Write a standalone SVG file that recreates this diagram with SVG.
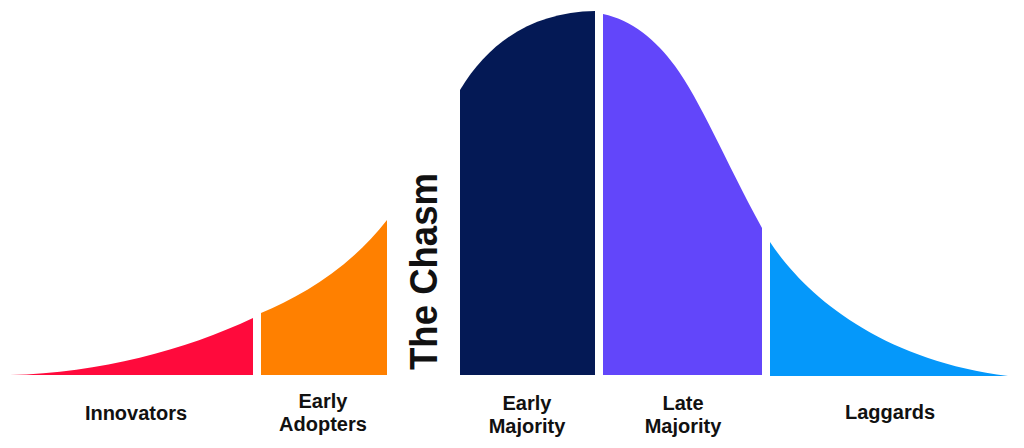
<svg xmlns="http://www.w3.org/2000/svg" width="1024" height="448" viewBox="0 0 1024 448">
<style>
.lbl{font-family:"Liberation Sans",Arial,sans-serif;font-weight:bold;font-size:20px;fill:#111;text-anchor:middle}
.chasm{font-family:"Liberation Sans",Arial,sans-serif;font-weight:bold;font-size:38px;fill:#111;text-anchor:middle}
</style>
<rect width="1024" height="448" fill="#ffffff"/>
<g id="innovators">
<path d="M10,375 C100,373 185,350 253,318 L253,375 Z" fill="#FF0A3C"/>
<text class="lbl" x="136" y="420">Innovators</text>
</g>
<g id="early-adopters">
<path d="M261,375 L261,313 C300,297 350,268 387,220 L387,375 Z" fill="#FF8000"/>
<text class="lbl" x="323" y="408">Early</text>
<text class="lbl" x="323" y="431">Adopters</text>
</g>
<g id="chasm">
<text class="chasm" transform="translate(437,271.5) rotate(-90)" x="0" y="0" textLength="197" lengthAdjust="spacingAndGlyphs">The Chasm</text>
</g>
<g id="early-majority">
<path d="M460,375 L460,90 C490,40 535,12 595,11 L595,375 Z" fill="#041955"/>
<text class="lbl" x="527" y="410">Early</text>
<text class="lbl" x="527" y="433">Majority</text>
</g>
<g id="late-majority">
<path d="M603,375 L603,14 C632,20 656,40 675,66 C700,100 725,160 762,228 L762,375 Z" fill="#6246FA"/>
<text class="lbl" x="683" y="410">Late</text>
<text class="lbl" x="683" y="433">Majority</text>
</g>
<g id="laggards">
<path d="M770,376 L770,242 C805,295 880,360 1008,376 Z" fill="#0598FA"/>
<text class="lbl" x="890" y="419">Laggards</text>
</g>
<g id="connectors"></g>
</svg>
